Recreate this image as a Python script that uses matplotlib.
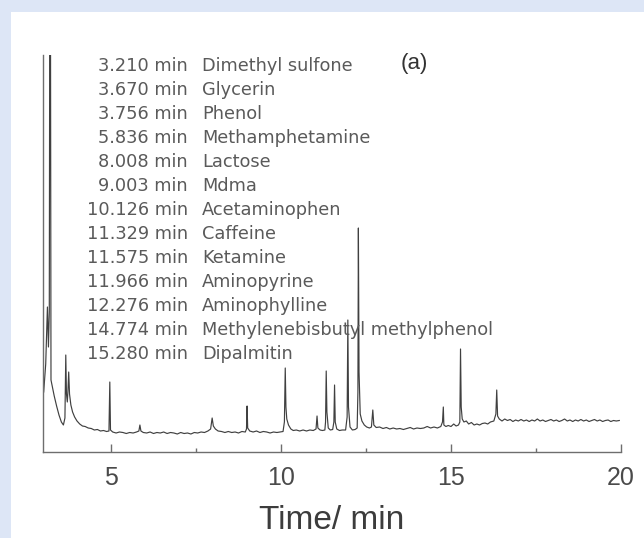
import matplotlib
matplotlib.use("Agg")
import matplotlib.pyplot as plt
from matplotlib.patches import Rectangle

W, H = 644, 538

# Identified compounds (retention time, name)
peak_times = ["3.210", "3.670", "3.756", "5.836", "8.008", "9.003", "10.126",
              "11.329", "11.575", "11.966", "12.276", "14.774", "15.280"]
compounds = ["Dimethyl sulfone", "Glycerin", "Phenol", "Methamphetamine",
             "Lactose", "Mdma", "Acetaminophen", "Caffeine", "Ketamine",
             "Aminopyrine", "Aminophylline", "Methylenebisbutyl methylphenol",
             "Dipalmitin"]

# Total ion chromatogram trace (time in min, abundance in arbitrary units)
retention_min = [
    3.02, 3.08, 3.13, 3.16, 3.185, 3.21, 3.235, 3.27, 3.33, 3.40, 3.47, 3.54,
    3.60, 3.645, 3.67, 3.69, 3.715, 3.735, 3.756, 3.78, 3.82, 3.87, 3.93, 4.00,
    4.08, 4.16, 4.24, 4.33, 4.42, 4.51, 4.60, 4.69, 4.78, 4.87, 4.94, 4.965,
    4.985, 5.05, 5.15, 5.25, 5.35, 5.45, 5.55, 5.65, 5.75, 5.82, 5.85, 5.88,
    5.95, 6.05, 6.15, 6.25, 6.35, 6.45, 6.55, 6.65, 6.75, 6.85, 6.95, 7.05,
    7.15, 7.25, 7.35, 7.45, 7.55, 7.65, 7.75, 7.85, 7.93, 7.975, 8.01, 8.07,
    8.15, 8.25, 8.35, 8.45, 8.55, 8.65, 8.75, 8.85, 8.95, 8.985, 9.003, 9.02,
    9.08, 9.18, 9.28, 9.38, 9.48, 9.58, 9.68, 9.78, 9.88, 9.98, 10.06, 10.10,
    10.125, 10.145, 10.17, 10.22, 10.29, 10.36, 10.45, 10.55, 10.65, 10.75,
    10.85, 10.95, 11.03, 11.06, 11.085, 11.15, 11.22, 11.29, 11.31, 11.33,
    11.35, 11.39, 11.45, 11.52, 11.555, 11.575, 11.595, 11.64, 11.72, 11.80,
    11.90, 11.945, 11.966, 11.985, 12.03, 12.10, 12.18, 12.24, 12.262, 12.276,
    12.295, 12.33, 12.38, 12.45, 12.52, 12.60, 12.66, 12.70, 12.73, 12.80,
    12.90, 13.00, 13.10, 13.20, 13.30, 13.40, 13.50, 13.60, 13.70, 13.80,
    13.90, 14.00, 14.10, 14.20, 14.30, 14.40, 14.50, 14.60, 14.70, 14.75,
    14.774, 14.79, 14.85, 14.92, 15.00, 15.08, 15.15, 15.22, 15.26, 15.28,
    15.30, 15.33, 15.38, 15.45, 15.52, 15.60, 15.68, 15.76, 15.84, 15.92,
    16.00, 16.08, 16.16, 16.26, 16.32, 16.345, 16.37, 16.42, 16.50, 16.58,
    16.66, 16.74, 16.82, 16.90, 16.98, 17.06, 17.14, 17.22, 17.30, 17.38,
    17.46, 17.54, 17.62, 17.70, 17.78, 17.86, 17.94, 18.02, 18.10, 18.18,
    18.26, 18.34, 18.42, 18.50, 18.58, 18.66, 18.74, 18.82, 18.90, 18.98,
    19.06, 19.14, 19.22, 19.30, 19.38, 19.46, 19.54, 19.62, 19.70, 19.78,
    19.86, 19.95,
]
abundance = [
    60, 88, 145, 105, 140, 700, 72, 66, 56, 46, 37, 30,
    27, 34, 97, 58, 50, 62, 80, 58, 47, 40, 35, 31,
    28, 26, 25.5, 24, 23.5, 22, 22.5, 21, 21.5, 20.5, 21, 70,
    22, 20, 19, 20, 19.5, 18.5, 19.5, 19, 20, 21, 27, 21,
    19.5, 19, 20, 18.5, 19.5, 19, 20, 18.5, 19.5, 19, 18, 19.5,
    18.5, 19, 18, 19.5, 19, 20, 19.5, 21, 23, 34, 26, 23,
    21, 20.5, 19.5, 20.5, 19.5, 20, 19, 20.5, 20, 23, 46, 24,
    21, 20, 21, 19.5, 20.5, 20, 19, 20, 19.5, 20, 20.5, 30,
    84, 45, 33, 27, 23, 21.5, 22, 21, 22, 21,
    22, 21.5, 23, 36, 24, 22, 21.5, 22, 30, 81,
    40, 24, 22, 22.5, 30, 67, 30, 23, 21.5, 22,
    22, 35, 132, 45, 25, 22, 22.5, 24, 60, 224,
    80, 38, 31, 27, 25, 24, 25, 42, 27, 24.5,
    25, 23.5, 24.5, 23, 24, 23, 23.5, 22.5, 23.5, 24.5,
    23, 24, 23.5, 24, 25.5, 24, 25, 24, 25.5, 30,
    45, 27, 25.5, 26.5, 25.5, 28, 26, 27, 30, 103,
    45, 33, 30, 31, 28, 29.5, 27, 28, 27, 28.5,
    29, 28, 30, 31, 38, 62, 36, 33, 31, 33,
    31.5, 32.5, 30.5, 32, 31, 32.5, 31, 32, 30.5, 32,
    31, 33, 31, 32, 30.5, 31.5, 32.5, 31, 32, 30.5,
    31.5, 33, 31, 32, 30.5, 32, 31, 32.5, 31, 32,
    30.5, 31.5, 32.5, 31, 32, 30.5, 31.5, 32, 30.5, 31.5,
    31, 31.5,
]

fig = plt.figure(figsize=(W / 100, H / 100), dpi=100, facecolor="#dde6f6")
# white panel behind everything
fig.patches.append(Rectangle((11 / W, 0), 1 - 11 / W, 1 - 12 / H,
                             transform=fig.transFigure, facecolor="white",
                             edgecolor="none", zorder=-10))

ax = fig.add_axes([43 / W, 1 - 452 / H, (621 - 43) / W, (452 - 55) / H])
ax.set_zorder(1)
ax.set_facecolor("none")
ax.plot(retention_min, abundance, color="#404040", lw=0.85)
ax.set_xlim(3, 20)
ax.set_ylim(0, 397)

for side in ("top", "right"):
    ax.spines[side].set_visible(False)
for side in ("left", "bottom"):
    ax.spines[side].set_color("#6e6e6e")
    ax.spines[side].set_linewidth(1.0)

ax.set_yticks([])
ax.set_xticks([5, 10, 15, 20])
ax.set_xticks([7.5, 12.5, 17.5], minor=True)
ax.tick_params(axis="x", which="major", direction="in", length=5.5, width=1,
               color="#6e6e6e", pad=10, labelsize=18, labelcolor="#4a4a4a")
ax.tick_params(axis="x", which="minor", direction="in", length=3, width=1,
               color="#6e6e6e")
for lab in ax.get_xticklabels():
    lab.set_family("Liberation Sans")
ax.set_xlabel("Time/ min", fontsize=24, family="Liberation Sans",
              color="#3c3c3c", labelpad=11)

# Compound list: time column right-aligned, name column left-aligned
for i, (t, name) in enumerate(zip(peak_times, compounds)):
    y = 1 - (71 + 24 * i) / H
    fig.text(188 / W, y, f"{t} min", ha="right", va="baseline",
             fontsize=12.8, color="#5a5a5a", family="DejaVu Sans", zorder=5)
    fig.text(202 / W, y, name, ha="left", va="baseline",
             fontsize=12.8, color="#5a5a5a", family="DejaVu Sans", zorder=5)

fig.text(414 / W, 1 - 64 / H, "(a)", ha="center", va="center",
         fontsize=16, color="#333333", family="Liberation Sans", zorder=5)

fig.savefig("out.png", dpi=100, facecolor=fig.get_facecolor())
